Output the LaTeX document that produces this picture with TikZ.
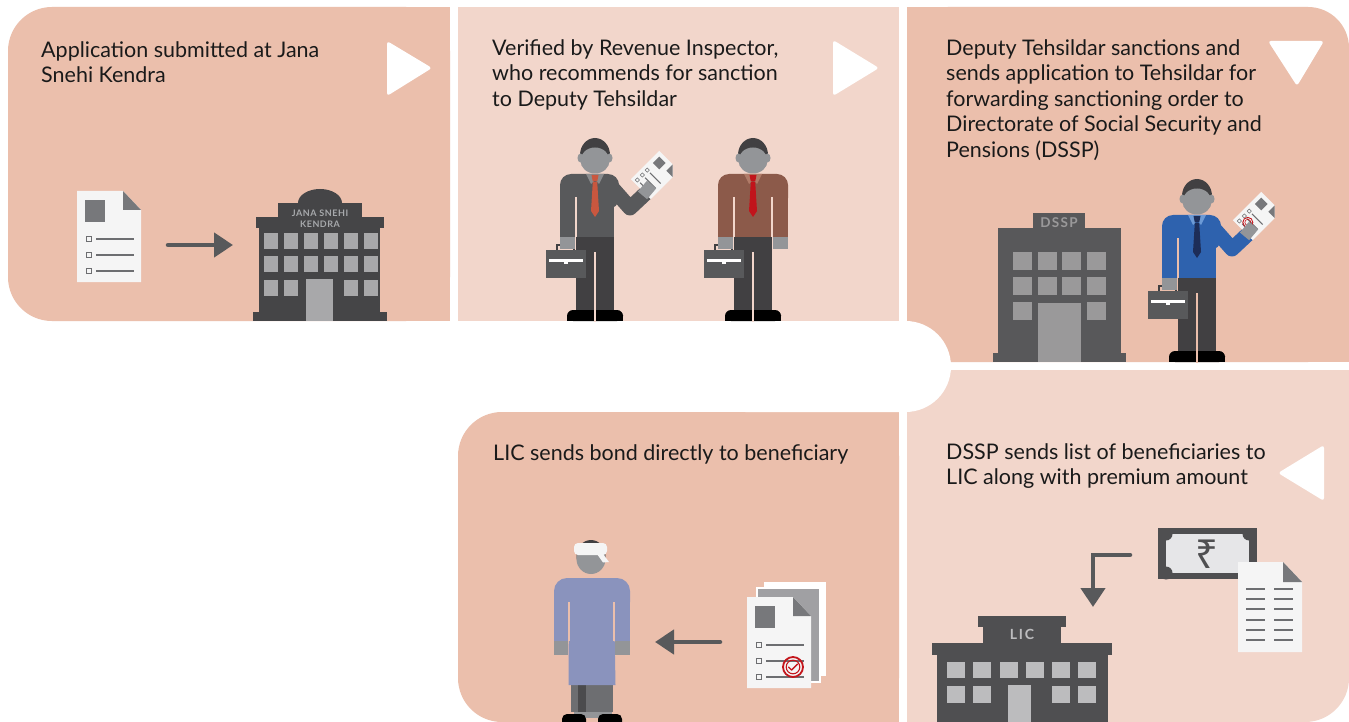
\documentclass[tikz,border=0pt]{standalone}
\usepackage{fontspec}
\setmainfont{Lato}
\newfontfamily\rupeefont{Noto Sans}
\usetikzlibrary{arrows.meta}

% palette
\definecolor{panelDark}{HTML}{EBBFAC}
\definecolor{panelLight}{HTML}{F2D6CB}
\definecolor{inkGrey}{HTML}{58595B}
\definecolor{bldJSK}{HTML}{454547}
\definecolor{winJSK}{HTML}{A8A8AA}
\definecolor{bldDSSP}{HTML}{58585A}
\definecolor{winDSSP}{HTML}{9A999A}
\definecolor{bldLIC}{HTML}{4F4F51}
\definecolor{winLIC}{HTML}{BCBCBE}
\definecolor{labelGrey}{HTML}{A7A9AC}
\definecolor{paper}{HTML}{F5F5F5}
\definecolor{noteLight}{HTML}{E6E6E8}
\definecolor{paperInk}{HTML}{77787B}
\definecolor{lineInk}{HTML}{6D6E71}
\definecolor{skin}{HTML}{939598}
\definecolor{hair}{HTML}{414042}
\definecolor{trousers}{HTML}{414042}
\definecolor{jacketGrey}{HTML}{58595B}
\definecolor{collarGrey}{HTML}{8A8B8D}
\definecolor{tieOrange}{HTML}{C9573F}
\definecolor{shirtBrown}{HTML}{8C5A4A}
\definecolor{collarBrown}{HTML}{B07B68}
\definecolor{tieRed}{HTML}{C1141B}
\definecolor{shirtBlue}{HTML}{2E62AE}
\definecolor{collarBlue}{HTML}{6C9AD6}
\definecolor{tieNavy}{HTML}{1D2D58}
\definecolor{kurta}{HTML}{8A93BD}
\definecolor{dhoti}{HTML}{6D6E71}
\definecolor{dhotiDark}{HTML}{4B4B4D}
\definecolor{sealRed}{HTML}{C4161C}
\definecolor{textInk}{HTML}{1A1A1A}

\tikzset{
  caption/.style={anchor=north west, inner sep=0pt, align=left, text=textInk,
                  font=\fontsize{21.5}{25.5}\selectfont},
  flowmark/.style={fill=white, rounded corners=3pt},
  iconarrow/.style={draw=inkGrey, line width=4.5pt, line cap=round,
                    -{Triangle[length=19pt,width=24pt]}},
  bldlabel/.style={inner sep=0pt, text=labelGrey},
}

% standing official, feet centred at (#1,#2)
% #3 shirt, #4 collar, #5 tie, #6 backdrop, #7 = 1 for a raised right arm
\newcommand{\official}[7]{%
  \begin{scope}[shift={(#1,#2)}]
    \fill[trousers] (-19,-91) rectangle (19,-8);
    \fill[black, rounded corners=6pt] (-28,-11) rectangle (28,0);
    \fill[black] (-28,-5) rectangle (28,0);
    \draw[#6, line width=2pt] (0,-69) -- (0,0.5);
    \ifnum#7=1
      \fill[#3, rounded corners=11pt] (-35,-147) rectangle (24,-112);
      \fill[#3] (-35,-125) rectangle (19,-84);
      \draw[#3, line width=15pt, line join=round] (12,-139) -- (35,-113) -- (51,-128);
    \else
      \fill[#3, rounded corners=11pt] (-35,-147) rectangle (35,-112);
      \fill[#3] (-35,-125) rectangle (35,-84);
      \draw[#6, line width=1.5pt] (19,-124) -- (19,-84);
      \fill[skin] (19.8,-84.5) rectangle (35,-72);
    \fi
    \draw[#6, line width=1.5pt] (-19,-124) -- (-19,-84);
    \fill[#4] (-9,-147) -- (9,-147) -- (4,-137) -- (0,-141) -- (-4,-137) -- cycle;
    \fill[#5] (-3.5,-146) -- (3.5,-146) -- (2.2,-139.5) -- (-2.2,-139.5) -- cycle;
    \fill[#5] (-2.2,-139) -- (2.2,-139) -- (4,-110) -- (0,-104) -- (-4,-110) -- cycle;
    \fill[hair] (0,-166) ellipse [x radius=15, y radius=17];
    \fill[skin] (0,-160.5) ellipse [x radius=14.6, y radius=13];
    \fill[skin] (-14.5,-163) ellipse [x radius=3, y radius=4.5];
    \fill[skin] (14.5,-163) ellipse [x radius=3, y radius=4.5];
    % briefcase in the left hand
    \draw[hair, line width=1.2pt] (-38,-70) -- (-38,-76) -- (-21,-76) -- (-21,-70);
    \fill[skin] (-35,-84.5) rectangle (-19.8,-72);
    \fill[jacketGrey] (-49,-71) rectangle (-9,-43);
    \fill[white] (-46,-62.5) rectangle (-12,-59.5);
    \fill[white] (-31,-60) rectangle (-27,-57.5);
  \end{scope}}

% paper held up in the raised hand of the official at (#1,#2); #3 = 1 adds a seal
\newcommand{\heldpaper}[3]{%
  \begin{scope}[shift={(#1,#2)}]
    \begin{scope}[shift={(60,-146)}, rotate=-45]
      \fill[paper] (-14,-20) -- (5,-20) -- (14,-11) -- (14,20) -- (-14,20) -- cycle;
      \fill[paperInk] (5,-20) -- (14,-11) -- (5,-11) -- cycle;
      \fill[paperInk] (-10,-16) rectangle (-1,-7);
      \foreach \k in {2,9,16} {
        \draw[lineInk, line width=0.5pt] (-10.5,\k-1.5) rectangle (-7.5,\k+1.5);
        \draw[lineInk, line width=1.1pt] (-5,\k) -- (10,\k);
      }
      \ifnum#3=1
        \draw[sealRed, line width=0.9pt] (-2,11) circle [radius=5];
        \draw[sealRed, line width=0.6pt] (-2,11) circle [radius=3];
      \fi
    \end{scope}
    \fill[skin, rotate around={-40:(52,-131)}] (46,-138) rectangle (58,-124);
  \end{scope}}

% application form, top-left corner at (#1,#2)
\newcommand{\formsheet}[2]{%
  \begin{scope}[shift={(#1,#2)}]
    \fill[paper] (0,0) -- (46,0) -- (64,19) -- (64,91) -- (0,91) -- cycle;
    \fill[paperInk] (46,0) -- (64,19) -- (46,19) -- cycle;
    \fill[paperInk] (8,9) rectangle (28,31);
    \foreach \k in {48,64,80} {
      \draw[lineInk, line width=0.9pt] (9.5,\k-2.5) rectangle (14.5,\k+2.5);
      \draw[lineInk, line width=2.6pt] (19,\k) -- (57,\k);
    }
  \end{scope}}

\begin{document}
\begin{tikzpicture}[x=1pt, y=-1pt]
\useasboundingbox (0,0) rectangle (1349,722);
\fill[white] (0,0) rectangle (1349,722);

% ---------- step panels ----------
\fill[panelDark, rounded corners=44pt] (8,7) rectangle (450,321);
\fill[panelDark] (200,7) rectangle (450,321);
\fill[panelLight] (458,7) rectangle (899,321);
\fill[panelDark, rounded corners=41pt] (907,7) rectangle (1349,362);
\fill[panelDark] (907,7) rectangle (1200,362);
\fill[panelDark] (907,150) rectangle (1349,362);
\fill[panelLight, rounded corners=44pt] (907,370) rectangle (1349,722);
\fill[panelLight] (907,370) rectangle (1200,722);
\fill[panelLight] (907,370) rectangle (1349,600);
\fill[panelDark, rounded corners=44pt] (458,412) rectangle (899,722);
\fill[panelDark] (650,412) rectangle (899,722);
% rounded white turn between the rows
\fill[white, rounded corners=45.5pt] (700,321) rectangle (951,412);

% ---------- captions ----------
\node[caption] (cap1) at (41,41) {Application submitted at Jana\\Snehi Kendra};
\node[caption] (cap2) at (492,39) {Verified by Revenue Inspector,\\who recommends for sanction\\to Deputy Tehsildar};
\node[caption] (cap3) at (946,39) {Deputy Tehsildar sanctions and\\sends application to Tehsildar for\\forwarding sanctioning order to\\Directorate of Social Security and\\Pensions (DSSP)};
\node[caption] (cap5) at (493,444) {LIC sends bond directly to beneficiary};
\node[caption] (cap6) at (946,443) {DSSP sends list of beneficiaries to\\LIC along with premium amount};

% ---------- direction marks ----------
\fill[flowmark] (387,41) -- (432,68) -- (387,96) -- cycle;
\fill[flowmark] (833,40) -- (879,68) -- (833,96) -- cycle;
\fill[flowmark] (1268,41) -- (1324,41) -- (1297,86) -- cycle;
\fill[flowmark] (1324,445) -- (1324,501) -- (1278,473) -- cycle;

% ---------- step 1: form to Jana Snehi Kendra ----------
\formsheet{77}{191}
\coordinate (formOut) at (168,245);
\coordinate (kendraIn) at (233,245);
\draw[iconarrow] (formOut) -- (kendraIn);
\fill[bldJSK] (320,203) ellipse [x radius=22, y radius=14];
\fill[bldJSK] (278,203) rectangle (362,217);
\fill[bldJSK] (256,217) rectangle (384,228);
\fill[bldJSK] (259,228) rectangle (380,313);
\fill[bldJSK] (253,312) rectangle (387,321);
\foreach \wx in {264,284,304,324,344,364}
  \foreach \wy in {233,256}
    \fill[winJSK] (\wx,\wy) rectangle (\wx+14,\wy+15.5);
\foreach \wx in {264,284,344,364}
  \fill[winJSK] (\wx,280) rectangle (\wx+14,295.5);
\fill[winJSK] (306,279) rectangle (333,321);
\node[bldlabel, font=\bfseries\fontsize{9}{9}\selectfont\addfontfeatures{LetterSpace=6}] (jskA) at (320,213.5) {JANA SNEHI};
\node[bldlabel, font=\bfseries\fontsize{9}{9}\selectfont\addfontfeatures{LetterSpace=6}] (jskB) at (320,224.5) {KENDRA};

% ---------- step 2: revenue inspector and deputy tehsildar ----------
\official{595}{321}{jacketGrey}{collarGrey}{tieOrange}{panelLight}{1}
\heldpaper{595}{321}{0}
\official{753}{321}{shirtBrown}{collarBrown}{tieRed}{panelLight}{0}

% ---------- step 3: DSSP office and tehsildar ----------
\fill[bldDSSP] (1033,213) rectangle (1085,229);
\fill[bldDSSP] (998,228) rectangle (1121,355);
\fill[bldDSSP] (993,353) rectangle (1126,362);
\foreach \wx in {1013,1037.5,1062,1087}
  \foreach \wy in {252,277}
    \fill[winDSSP] (\wx,\wy) rectangle (\wx+19,\wy+18);
\fill[winDSSP] (1013,302) rectangle (1032,320);
\fill[winDSSP] (1087,302) rectangle (1106,320);
\fill[winDSSP] (1037.5,303) rectangle (1081,362);
\node[bldlabel, text=winDSSP, font=\bfseries\fontsize{13.5}{13.5}\selectfont\addfontfeatures{LetterSpace=10}] (dsspSign) at (1059,223) {DSSP};
\official{1197}{362}{shirtBlue}{collarBlue}{tieNavy}{panelDark}{1}
\heldpaper{1197}{362}{1}

% ---------- step 4: premium and list to LIC ----------
\fill[bldLIC] (1158,528) rectangle (1257,579);
\begin{scope}
  \clip (1158,528) rectangle (1257,579);
  \fill[noteLight] (1166,534) rectangle (1249,573);
  \foreach \cx/\cy in {1166/534,1249/534,1166/573,1249/573}
    \fill[bldLIC] (\cx,\cy) circle [radius=6.5];
\end{scope}
\node[inner sep=0pt, text=bldLIC, font=\rupeefont\bfseries\fontsize{40}{40}\selectfont] (rupee) at (1207,554) {₹};
\begin{scope}[shift={(1238,562)}]
  \fill[paper] (0,0) -- (45,0) -- (64,20) -- (64,90) -- (0,90) -- cycle;
  \fill[paperInk] (45,0) -- (64,20) -- (45,20) -- cycle;
  \foreach \ly in {27,37,47,58,68,78} {
    \draw[lineInk, line width=2.6pt] (8,\ly) -- (27,\ly);
    \draw[lineInk, line width=2.6pt] (36,\ly) -- (55,\ly);
  }
\end{scope}
\coordinate (payOut) at (1130,555);
\coordinate (payBend) at (1093,555);
\coordinate (licIn) at (1093,607);
\draw[iconarrow, line join=miter] (payOut) -- (payBend) -- (licIn);
\fill[bldLIC] (978,616) rectangle (1066,627);
\fill[bldLIC] (983,627) rectangle (1061,644);
\fill[bldLIC] (932,643) rectangle (1112,655);
\fill[bldLIC] (937,654) rectangle (1108,722);
\foreach \wx in {947,973,1000,1026,1052,1078}
  \fill[winLIC] (\wx,662) rectangle (\wx+18,678);
\foreach \wx in {947,973,1052,1078}
  \fill[winLIC] (\wx,686) rectangle (\wx+18,703);
\fill[winLIC] (1008,685) rectangle (1031,722);
\node[bldlabel, text=winLIC, font=\bfseries\fontsize{14}{14}\selectfont\addfontfeatures{LetterSpace=12}] (licSign) at (1022,634) {LIC};

% ---------- step 5: bond to the beneficiary ----------
\fill[white] (764,582) rectangle (826,676);
\fill[paperInk!70, draw=white, line width=1.2pt] (757,588) rectangle (820,682);
\formsheet{747}{597}
\draw[sealRed, line width=1.8pt] (793,667) circle [radius=10];
\draw[sealRed, line width=1.1pt] (793,667) circle [radius=6.8];
\draw[sealRed, line width=1.4pt, line cap=round, line join=round] (788.5,667) -- (791.5,670) -- (797.5,664);
\coordinate (bondOut) at (720,642);
\coordinate (bondIn) at (655,642);
\draw[iconarrow] (bondOut) -- (bondIn);
% beneficiary
\fill[skin] (574,704) rectangle (612,718);
\fill[dhoti] (571,684) rectangle (613,712);
\fill[dhotiDark] (578,684) rectangle (586,712);
\fill[black, rounded corners=5pt] (562,714) rectangle (586,728);
\fill[black, rounded corners=5pt] (598,714) rectangle (622,728);
\fill[kurta, rounded corners=13pt] (554,578) rectangle (630,615);
\fill[kurta] (554,598) rectangle (630,641);
\fill[kurta] (569,600) -- (614,600) -- (615.5,685) -- (568.5,685) -- cycle;
\draw[panelDark, line width=1.5pt] (569,602) -- (569,641);
\draw[panelDark, line width=1.5pt] (614,602) -- (614,641);
\fill[skin] (554,641) rectangle (568.3,655);
\fill[skin] (614.7,641) rectangle (630,655);
\fill[hair] (591,556) ellipse [x radius=14.5, y radius=16];
\fill[skin] (591,559) ellipse [x radius=14.5, y radius=15];
\fill[paper] (600,550) -- (609,562) -- (603,562.5) -- (597,554) -- cycle;
\fill[paper, rounded corners=4pt] (574,543) rectangle (607,555);
\end{tikzpicture}
\end{document}
